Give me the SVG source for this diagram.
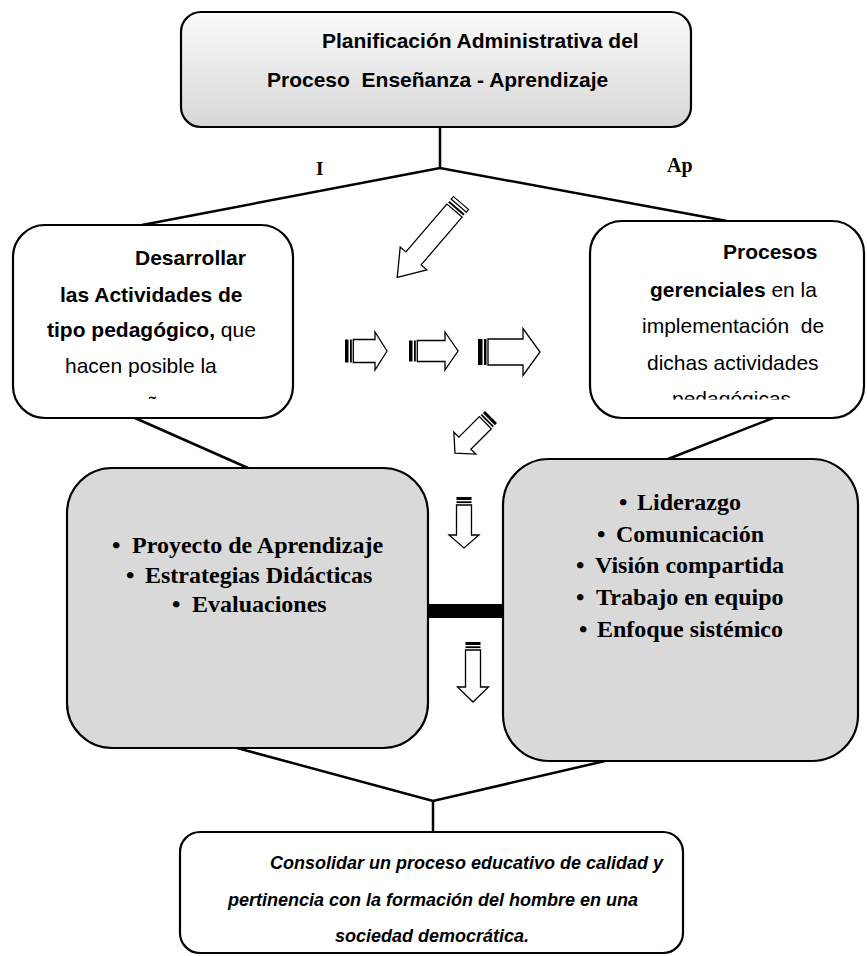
<svg xmlns="http://www.w3.org/2000/svg" width="867" height="956" viewBox="0 0 867 956">
<style>
.box{stroke:#000;stroke-width:2.2}
.white{fill:#fff}
.gray{fill:#d9d9d9}
.ln{stroke:#000;stroke-width:2.5;fill:none}
.sans{font-family:"Liberation Sans",Arial,sans-serif;fill:#000}
.serif{font-family:"Liberation Serif","Times New Roman",serif;fill:#000;font-weight:bold}
.b{font-weight:bold}
.arr path{fill:#fff;stroke:#000;stroke-width:1.3;stroke-linejoin:miter}
.arr rect.k{fill:#000}
.arr rect.o{fill:#fff;stroke:#000;stroke-width:1.2}
</style>
<defs>
<linearGradient id="topg" x1="0" y1="0" x2="0" y2="1">
<stop offset="0" stop-color="#fbfbfb"/>
<stop offset="1" stop-color="#d6d6d6"/>
</linearGradient>
<clipPath id="clipL"><rect x="0" y="0" width="867" height="399.5"/></clipPath>
</defs>
<rect width="867" height="956" fill="#fff"/>

<g id="connectors">
<line class="ln" x1="440" y1="127" x2="440" y2="168"/>
<polyline class="ln" points="142,225 440,168 727,221"/>
<line class="ln" x1="135" y1="418" x2="248" y2="468"/>
<line class="ln" x1="773" y1="418" x2="668" y2="459"/>
<polyline class="ln" points="237,748 433,801 605,761"/>
<line class="ln" x1="433" y1="801" x2="433" y2="832"/>
<rect x="428" y="604" width="75" height="14" fill="#000"/>
<text class="serif" x="316" y="175" font-size="19">I</text>
<text class="serif" x="667" y="172" font-size="20">Ap</text>
</g>

<g id="arrows" class="arr">
<g transform="translate(461,203) rotate(130.6)">
<rect class="o" x="0" y="-10" width="3.5" height="20"/><rect class="k" x="6" y="-10" width="2" height="20"/>
<path d="M10,-10 H73 V-17.5 L98,0 L73,17.5 V10 H10 Z"/>
</g>
<g transform="translate(345,351)">
<rect class="k" x="0" y="-11.5" width="3.5" height="23"/><rect class="k" x="5" y="-11.5" width="1.8" height="23"/>
<path d="M8.3,-11.5 H30 V-19 L42,0 L30,19 V11.5 H8.3 Z"/>
</g>
<g transform="translate(409,351)">
<rect class="k" x="0" y="-10.5" width="3.5" height="21"/><rect class="k" x="5" y="-10.5" width="1.8" height="21"/>
<path d="M8.3,-10.5 H36 V-19 L49,0 L36,19 V10.5 H8.3 Z"/>
</g>
<g transform="translate(478,352)">
<rect class="k" x="0" y="-13" width="4.5" height="26"/><rect class="k" x="6" y="-13" width="2.5" height="26"/>
<path d="M10,-13 H45 V-23.5 L62,0 L45,23.5 V13 H10 Z"/>
</g>
<g transform="translate(491,417) rotate(135)">
<rect class="k" x="0" y="-8.5" width="3" height="17"/><rect class="k" x="4.3" y="-8.5" width="1.8" height="17"/>
<path d="M8,-8.5 H37 V-15.5 L51,0 L37,15.5 V8.5 H8 Z"/>
</g>
<g transform="translate(464,497) rotate(90)">
<rect class="k" x="0" y="-7.5" width="3" height="15"/><rect class="k" x="4.3" y="-7.5" width="1.8" height="15"/>
<path d="M8,-7.5 H38 V-15 L51,0 L38,15 V7.5 H8 Z"/>
</g>
<g transform="translate(473,642) rotate(90)">
<rect class="k" x="0" y="-7.5" width="3" height="15"/><rect class="k" x="4.3" y="-7.5" width="1.8" height="15"/>
<path d="M8,-7.5 H45 V-15.5 L60,0 L45,15.5 V7.5 H8 Z"/>
</g>
</g>

<g id="top">
<rect class="box" x="181" y="12" width="510" height="115" rx="20" fill="url(#topg)"/>
<text class="sans b" font-size="21" x="322" y="48">Planificación Administrativa del</text>
<text class="sans b" font-size="21" x="267" y="87" xml:space="preserve">Proceso  Enseñanza - Aprendizaje</text>
</g>

<g id="left">
<rect class="box white" x="13" y="225" width="280" height="193" rx="32"/>
<g class="sans" font-size="21">
<text class="b" x="135" y="265">Desarrollar</text>
<text class="b" x="60" y="302">las Actividades de</text>
<text x="47" y="337"><tspan class="b">tipo pedagógico,</tspan> que</text>
<text x="65" y="373">hacen posible la</text>
<text x="149" y="411" clip-path="url(#clipL)">˜</text>
</g>
</g>

<g id="right">
<rect class="box white" x="590" y="221" width="274" height="197" rx="32"/>
<g class="sans" font-size="21">
<text class="b" x="723" y="259">Procesos</text>
<text x="650" y="297"><tspan class="b">gerenciales</tspan> en la</text>
<text x="642" y="333" xml:space="preserve">implementación  de</text>
<text x="647" y="370">dichas actividades</text>
<text x="672" y="406" clip-path="url(#clipL)">pedagógicas</text>
</g>
</g>

<g id="leftGray">
<rect class="box gray" x="67" y="468" width="361" height="280" rx="45"/>
<g class="serif" font-size="24">
<text y="553"><tspan x="112">•</tspan><tspan x="132">Proyecto de Aprendizaje</tspan></text>
<text y="583"><tspan x="126">•</tspan><tspan x="145">Estrategias Didácticas</tspan></text>
<text y="612"><tspan x="172">•</tspan><tspan x="192">Evaluaciones</tspan></text>
</g>
</g>

<g id="rightGray">
<rect class="box gray" x="503" y="459" width="355" height="302" rx="46"/>
<g class="serif" font-size="24">
<text y="510"><tspan x="619">•</tspan><tspan x="637">Liderazgo</tspan></text>
<text y="542"><tspan x="597">•</tspan><tspan x="616">Comunicación</tspan></text>
<text y="573"><tspan x="576">•</tspan><tspan x="595">Visión compartida</tspan></text>
<text y="605"><tspan x="576">•</tspan><tspan x="596">Trabajo en equipo</tspan></text>
<text y="637"><tspan x="579">•</tspan><tspan x="597">Enfoque sistémico</tspan></text>
</g>
</g>

<g id="bottom">
<rect class="box white" x="180" y="832" width="503" height="121" rx="20"/>
<g class="sans b" font-size="18" font-style="italic">
<text x="270" y="869">Consolidar un proceso educativo de calidad y</text>
<text x="228" y="906">pertinencia con la formación del hombre en una</text>
<text x="335" y="942">sociedad democrática.</text>
</g>
</g>
</svg>
